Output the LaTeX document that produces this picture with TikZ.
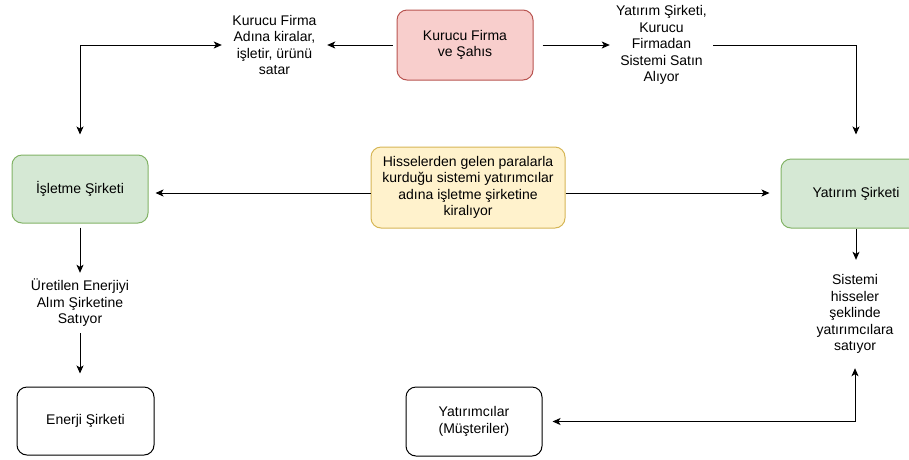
\documentclass[tikz,border=0pt]{standalone}
\usepackage{fontspec}
\setmainfont{Liberation Sans}
\usetikzlibrary{arrows.meta}
\definecolor{pinkF}{HTML}{F8CECC}
\definecolor{pinkD}{HTML}{B85450}
\definecolor{greenF}{HTML}{D5E8D4}
\definecolor{greenD}{HTML}{82B366}
\definecolor{yelF}{HTML}{FFF2CC}
\definecolor{yelD}{HTML}{D6B656}
\tikzset{
  every node/.style={font=\fontsize{14}{16.5}\selectfont, align=center, inner sep=0pt},
  boxbase/.style={rectangle, rounded corners=10pt, line width=1pt},
  pinkbox/.style={boxbase, draw=pinkD, fill=pinkF},
  greenbox/.style={boxbase, draw=greenD, fill=greenF},
  yelbox/.style={boxbase, draw=yelD, fill=yelF},
  whitebox/.style={boxbase, draw=black, fill=white},
  lbl/.style={rectangle},
  arr/.style={line width=1pt, draw=black, -{Stealth[length=8pt,width=7pt,inset=2pt]}},
  arrb/.style={line width=1pt, draw=black, {Stealth[length=8pt,width=7pt,inset=2pt]}-{Stealth[length=8pt,width=7pt,inset=2pt]}},
}
\begin{document}
\begin{tikzpicture}[x=1pt,y=-1pt]
\useasboundingbox (0,0) rectangle (909,459);
\clip (0,0) rectangle (909,459);

% boxes
\node[pinkbox, minimum width=136pt, minimum height=70pt] (kf) at (465,45) {Kurucu Firma\\ve Şahıs};
\node[greenbox, minimum width=136pt, minimum height=68pt] (isl) at (80,189) {İşletme Şirketi};
\node[yelbox, minimum width=194pt, minimum height=81pt] (yel) at (468,187.5) {Hisselerden gelen paralarla\\kurduğu sistemi yatırımcılar\\adına işletme şirketine\\kiralıyor};
\node[greenbox, minimum width=150pt, minimum height=69pt] (yat) at (856,193.5) {Yatırım Şirketi};
\node[whitebox, minimum width=137pt, minimum height=68pt] (en) at (85.5,421) {Enerji Şirketi};
\node[whitebox, minimum width=136pt, minimum height=69pt] (yatc) at (474,421.5) {Yatırımcılar\\(Müşteriler)};

% labels
\node[lbl, minimum width=105pt, minimum height=60pt] (l1) at (274.5,45) {Kurucu Firma\\Adına kiralar,\\işletir, ürünü\\satar};
\node[lbl, minimum width=103pt, minimum height=75pt] (l2) at (661.5,45) {Yatırım Şirketi,\\Kurucu\\Firmadan\\Sistemi Satın\\Alıyor};
\node[lbl, minimum width=80pt, minimum height=108pt] (l3) at (855,314) {Sistemi\\hisseler\\şeklinde\\yatırımcılara\\satıyor};
\node[lbl, minimum width=110pt, minimum height=60pt] (l4) at (80,303) {Üretilen Enerjiyi\\Alım Şirketine\\Satıyor};
\coordinate (my) at (0,193);

% connectors
\draw[arr, shorten <=4pt] (kf.west) -- (l1.east);
\draw[arr, shorten <=9pt] (kf.east) -- (l2.west);
\draw[arrb, shorten >=20pt] (l1.west) -| (isl.north);
\draw[arr, shorten >=24pt] (l2.east) -| (yat.north);
\draw[arr, shorten >=7pt] (yel.west |- my) -- (isl.east |- my);
\draw[arr, shorten >=11pt] (yel.east |- my) -- (yat.west |- my);
\draw[arr] (yat.south) -- (yat.south |- l3.north);
\draw[arrb, shorten >=10pt] (l3.south) |- (yatc.east);
\draw[arr, shorten <=4pt] (isl.south) -- (l4.north);
\draw[arr, shorten >=13pt] (l4.south) -- (l4.south |- en.north);
\end{tikzpicture}
\end{document}
